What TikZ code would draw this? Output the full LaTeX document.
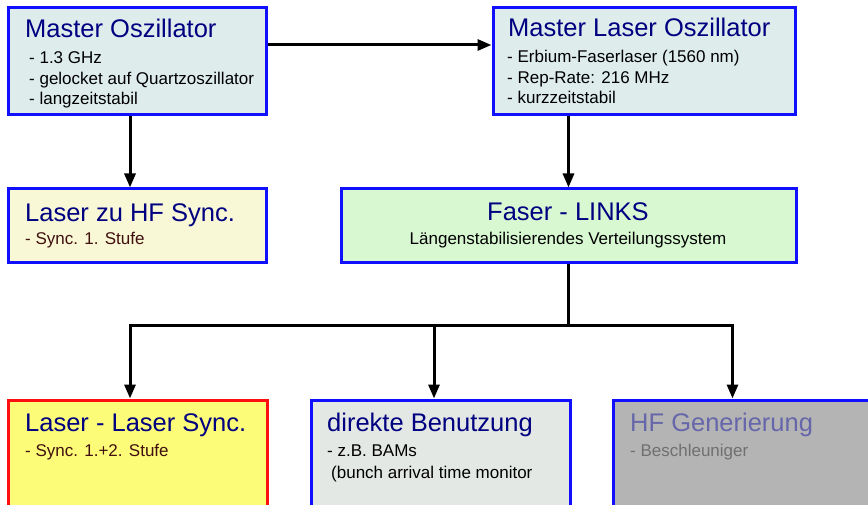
\documentclass[tikz,border=0pt]{standalone}
\usepackage{fontspec}
\setmainfont{Liberation Sans}
\usetikzlibrary{arrows.meta}

\definecolor{navy}{HTML}{000080}
\definecolor{kantenblau}{HTML}{1010FF}
\definecolor{kantenrot}{HTML}{FF1010}
\definecolor{oszfill}{HTML}{DEECEC}
\definecolor{hffill}{HTML}{F8F8D6}
\definecolor{linkfill}{HTML}{D8F8D2}
\definecolor{llfill}{HTML}{FCFC78}
\definecolor{bzfill}{HTML}{E4E8E4}
\definecolor{hfgfill}{HTML}{B4B4B4}
\definecolor{braun}{HTML}{401010}
\definecolor{grautitel}{HTML}{6666AA}
\definecolor{grautext}{HTML}{707070}

\tikzset{
    kasten/.style={draw=kantenblau, line width=3pt, inner sep=0pt},
    titel/.style={anchor=base west, inner sep=0pt, text=navy, font=\fontsize{25.5}{30}\selectfont},
    punkt/.style={anchor=base west, inner sep=0pt, font=\fontsize{17}{20}\selectfont},
    pfeil/.style={line width=3pt, -{Triangle[width=11pt,length=14pt]}},
}

\begin{document}
\begin{tikzpicture}[x=1pt,y=-1pt]
    \useasboundingbox (0,0) rectangle (868,505);
    \clip (0,0) rectangle (868,505);

    % Kaesten
    \node[kasten, fill=oszfill, minimum width=258pt, minimum height=107pt] (mo) at (137,61.5) {};
    \node[kasten, fill=oszfill, minimum width=302pt, minimum height=107pt] (mlo) at (644,61.5) {};
    \node[kasten, fill=hffill, minimum width=258pt, minimum height=74pt] (hf) at (137,226) {};
    \node[kasten, fill=linkfill, minimum width=455pt, minimum height=74pt] (links) at (568.5,226) {};
    \node[kasten, draw=kantenrot, fill=llfill, minimum width=259pt, minimum height=125pt] (ll) at (137.5,462.5) {};
    \node[kasten, fill=bzfill, minimum width=259pt, minimum height=125pt] (bz) at (440.5,462.5) {};
    \node[kasten, fill=hfgfill, minimum width=267pt, minimum height=125pt] (hfg) at (746.5,462.5) {};

    % Texte
    \node[titel] (mo-t) at (25,38) {Master Oszillator};
    \node[punkt] (mo-a) at (29,64) {- 1.3 GHz};
    \node[punkt] (mo-b) at (29,84.5) {- gelocket auf Quartzoszillator};
    \node[punkt] (mo-c) at (29,105) {- langzeitstabil};

    \node[titel] (mlo-t) at (508,37) {Master Laser Oszillator};
    \node[punkt] (mlo-a) at (507,63) {- Erbium-Faserlaser (1560 nm)};
    \node[punkt] (mlo-b) at (507,83.5) {- Rep-Rate: 216 MHz};
    \node[punkt] (mlo-c) at (507,104) {- kurzzeitstabil};

    \node[titel] (hf-t) at (25,222) {Laser zu HF Sync.};
    \node[punkt, text=braun] (hf-a) at (25,245) {- Sync. 1. Stufe};

    \node[titel, anchor=base] (links-t) at (568,221) {Faser - LINKS};
    \node[punkt, anchor=base] (links-a) at (568,245) {Längenstabilisierendes Verteilungssystem};

    \node[titel] (ll-t) at (25,431) {Laser - Laser Sync.};
    \node[punkt, text=braun] (ll-a) at (25,456) {- Sync. 1.+2. Stufe};

    \node[titel] (bz-t) at (327,431) {direkte Benutzung};
    \node[punkt] (bz-a) at (327,456) {- z.B. BAMs};
    \node[punkt] (bz-b) at (331,478) {(bunch arrival time monitor};

    \node[titel, text=grautitel] (hfg-t) at (630,431) {HF Generierung};
    \node[punkt, text=grautext] (hfg-a) at (630,456) {- Beschleuniger};

    % Verbindungen
    \draw[pfeil] ([yshift=16.5pt]mo.east) -- ([yshift=16.5pt]mlo.west);
    \draw[pfeil] ([xshift=-7pt]mo.south) -- ([xshift=-7pt]hf.north);
    \draw[pfeil] (links.north |- mlo.south) -- (links.north);

    \coordinate (knoten) at (568.5,325);
    \draw[line width=3pt] (links.south) -- (knoten);
    \draw[pfeil] (knoten) -| ([xshift=-7.5pt]ll.north);
    \draw[pfeil] (knoten) -| ([xshift=121pt]hfg.north west);
    \draw[pfeil] ([xshift=-6.5pt]bz.north |- knoten) -- ([xshift=-6.5pt]bz.north);
\end{tikzpicture}
\end{document}
